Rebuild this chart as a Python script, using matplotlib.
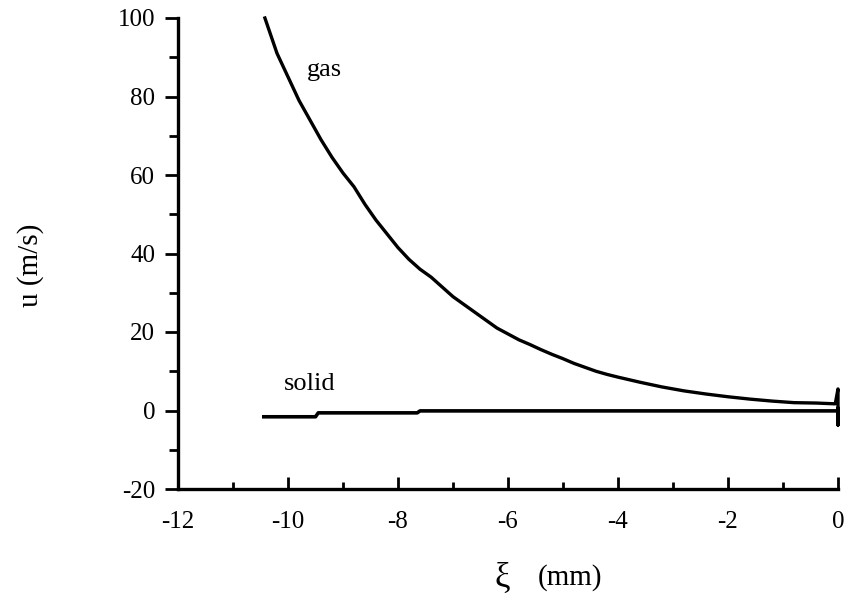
import matplotlib
matplotlib.use("Agg")
import matplotlib.pyplot as plt

# Data
gas_x = [-10.42, -10.2, -10.0, -9.8, -9.6, -9.4, -9.2, -9.0, -8.8, -8.6,
         -8.4, -8.2, -8.0, -7.8, -7.6, -7.4, -7.2, -7.0, -6.8, -6.6,
         -6.4, -6.2, -6.0, -5.8, -5.6, -5.4, -5.2, -5.0, -4.8, -4.6,
         -4.4, -4.2, -4.0, -3.6, -3.2, -2.8, -2.4, -2.0, -1.6, -1.2,
         -0.8, -0.4, -0.05, 0.0, 0.0, 0.0]
gas_y = [100.0, 91.0, 85.0, 79.0, 74.0, 69.0, 64.5, 60.5, 57.0, 52.5,
         48.5, 45.0, 41.5, 38.5, 36.0, 34.0, 31.5, 29.0, 27.0, 25.0,
         23.0, 21.0, 19.5, 18.0, 16.8, 15.5, 14.3, 13.2, 12.0, 11.0,
         10.0, 9.2, 8.5, 7.2, 6.0, 5.0, 4.2, 3.5, 2.9, 2.4,
         2.0, 1.9, 1.7, 5.5, -3.7, 0.5]

solid_x = [-10.44, -9.50, -9.45, -7.65, -7.60, -2.0, 0.0]
solid_y = [-1.6, -1.6, -0.6, -0.6, -0.1, -0.1, -0.1]

x_ticks = [-12, -10, -8, -6, -4, -2, 0]
y_ticks = [-20, 0, 20, 40, 60, 80, 100]

plt.rcParams['font.family'] = ['Liberation Serif', 'DejaVu Serif']

fig = plt.figure(figsize=(8.48, 6.0), dpi=100)
ax = fig.add_axes([178/848, 1 - 489/600, 660/848, 471/600])

ax.plot(gas_x, gas_y, color='black', lw=2.4, solid_joinstyle='round', clip_on=False)
ax.plot(solid_x, solid_y, color='black', lw=2.6, clip_on=False)

ax.set_xlim(-12, 0)
ax.set_ylim(-20, 100)
ax.set_xticks(x_ticks)
ax.set_yticks(y_ticks)
ax.set_xticks([-11, -9, -7, -5, -3, -1], minor=True)
ax.set_yticks([-10, 10, 30, 50, 70, 90], minor=True)
ax.set_xticklabels([str(v) for v in x_ticks])
ax.set_yticklabels([str(v) for v in y_ticks])

for s in ['top', 'right']:
    ax.spines[s].set_visible(False)
for s in ['left', 'bottom']:
    ax.spines[s].set_linewidth(2.4)

ax.tick_params(axis='x', which='major', direction='in', length=8.5, width=2, pad=16, labelsize=18)
ax.tick_params(axis='x', which='minor', direction='in', length=5, width=2)
ax.tick_params(axis='y', which='major', direction='out', length=9.5, width=2, pad=7, labelsize=18)
ax.tick_params(axis='y', which='minor', direction='out', length=6.5, width=2)

# x-axis label: larger xi symbol followed by the unit
fig.text(502 / 848, 1 - 578 / 600, 'ξ', fontsize=25, ha='center', va='center')
fig.text(570 / 848, 1 - 578 / 600, '(mm)', fontsize=21, ha='center', va='center')

ax.set_ylabel('u (m/s)', fontsize=21)
ax.yaxis.set_label_coords(-(178 - 31) / 660, (489 - 265) / 471)
ax.yaxis.label.set_verticalalignment('center')

ax.text(-9.33, 86.7, 'gas', fontsize=19, ha='center', va='center')
ax.text(-9.6, 6.8, 'solid', fontsize=19, ha='center', va='center')

fig.savefig('out.png', dpi=100, facecolor='white')
